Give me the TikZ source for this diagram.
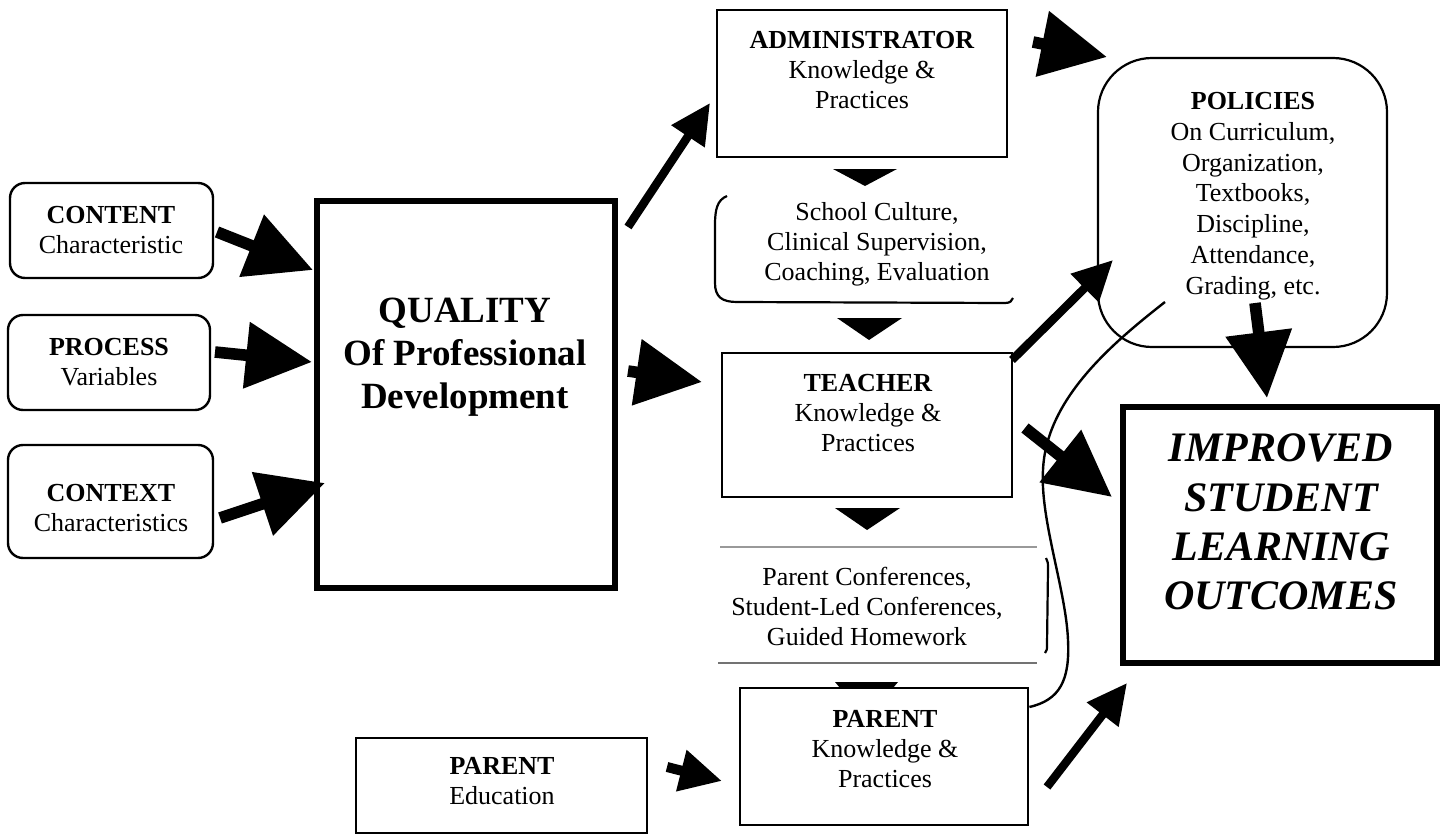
\documentclass[tikz,border=0pt]{standalone}
\usepackage{fontspec}
\setmainfont{Liberation Serif}
\usetikzlibrary{arrows.meta,fit}
\begin{document}
\begin{tikzpicture}[x=0.5pt,y=-0.5pt,
  rbox/.style={draw, line width=1.2pt, rounded corners=7.5pt, inner sep=0pt},
  sbox/.style={draw, line width=1.4pt, inner sep=0pt},
  tbox/.style={draw, line width=2.6pt, inner sep=0pt},
  txt/.style={align=center, inner sep=0pt, font=\fontsize{13}{15}\selectfont},
  bigarrow/.style={line width=5.8pt, -{Triangle[length=33pt,width=32pt]}},
  smallarrow/.style={line width=4.2pt, -{Triangle[length=20pt,width=19pt]}},
  tri/.style={fill=black, draw=none},
  thin/.style={line width=1.1pt}
]
\useasboundingbox (0,0) rectangle (1442,835);

% boxes
\node[rbox, fit={(10,183)(213,278)}] (content) {};
\node[rbox, fit={(8,315)(210,410)}] (process) {};
\node[rbox, fit={(8,445)(213,558)}] (context) {};
\node[tbox, fit={(317,201)(615,588)}] (quality) {};
\node[sbox, fit={(717,10)(1007,157)}] (admin) {};
\node[sbox, fit={(722,353)(1012,497)}] (teacher) {};
\node[sbox, fit={(740,688)(1028,825)}] (parentk) {};
\node[sbox, fit={(356,738)(647,833)}] (parented) {};
\node[draw, line width=1.1pt, rounded corners=27pt, inner sep=0pt, fit={(1098,58)(1387,347)}] (policies) {};
\node[tbox, fit={(1123,407)(1437,663)}] (improved) {};

% texts
\node[txt] (contenttxt) at (111,230) {\textbf{CONTENT}\\Characteristic};
\node[txt] (processtxt) at (109,362) {\textbf{PROCESS}\\Variables};
\node[txt] (contexttxt) at (111,508) {\textbf{CONTEXT}\\Characteristics};
\node[align=center, inner sep=0pt, font=\fontsize{18.5}{21.5}\selectfont\bfseries] (qualitytxt) at (465,357) {QUALITY\\Of Professional\\Development};
\node[txt] (admintxt) at (862,70) {\textbf{ADMINISTRATOR}\\Knowledge \&\\Practices};
\node[txt] (culturetxt) at (877,244) {School Culture,\\Clinical Supervision,\\Coaching, Evaluation};
\node[txt] (teachertxt) at (868,413) {\textbf{TEACHER}\\Knowledge \&\\Practices};
\node[txt] (conftxt) at (867,606) {Parent Conferences,\\Student-Led Conferences,\\Guided Homework};
\node[txt] (edtxt) at (502,781) {\textbf{PARENT}\\Education};
\node[txt] (parentktxt) at (885,749) {\textbf{PARENT}\\Knowledge \&\\Practices};
\node[align=center, inner sep=0pt, font=\fontsize{13}{15.4}\selectfont] (policiestxt) at (1253,196) {\textbf{POLICIES}\\On Curriculum,\\Organization,\\Textbooks,\\Discipline,\\Attendance,\\Grading, etc.};
\node[align=center, inner sep=0pt, font=\fontsize{21}{24.6}\selectfont\bfseries\itshape] (improvedtxt) at (1281,522) {IMPROVED\\STUDENT\\LEARNING\\OUTCOMES};

% school culture bracket shape
\draw[thin] (727,196) .. controls (717,200) and (715,210) .. (715,225) -- (715,283)
  .. controls (715,297) and (722,302) .. (737,302) -- (1005,303)
  .. controls (1010,303) and (1012,301) .. (1013,298);
% parent conferences lines
\draw[line width=1.1pt, black!40] (720,547) -- (1037,547);
\draw[line width=1.1pt, black!55] (718,663) -- (1037,663);
\draw[thin] (1046,558) .. controls (1048,562) .. (1048,570) -- (1047,645) .. controls (1047,650) .. (1045,653);

% down triangles
\fill[tri] (833,169) -- (897,169) -- (865,186) -- cycle;
\fill[tri] (837,318) -- (902,318) -- (869,340) -- cycle;
\fill[tri] (835,508) -- (900,508) -- (867,530) -- cycle;
\fill[tri] (835,682) -- (898,682) -- (893,688) -- (840,688) -- cycle;

% arrow coordinates
\coordinate (a1s) at (217,232); \coordinate (a1t) at (313,270);
\coordinate (a2s) at (215,352); \coordinate (a2t) at (312,362);
\coordinate (a3s) at (220,518); \coordinate (a3t) at (325,483);
\coordinate (a4s) at (628,227); \coordinate (a4t) at (710,103);
\coordinate (a5s) at (628,371); \coordinate (a5t) at (702,382);
\coordinate (a6s) at (1033,42); \coordinate (a6t) at (1107,57);
\coordinate (a7s) at (1012,360); \coordinate (a7t) at (1113,260);
\coordinate (a8s) at (1025,428); \coordinate (a8t) at (1112,497);
\coordinate (a9s) at (1255,303); \coordinate (a9t) at (1267,398);
\coordinate (a10s) at (1047,787); \coordinate (a10t) at (1127,683);
\coordinate (a11s) at (667,767); \coordinate (a11t) at (722,781);

\draw[bigarrow] (a1s) -- (a1t);
\draw[bigarrow] (a2s) -- (a2t);
\draw[bigarrow] (a3s) -- (a3t);
\draw[smallarrow] (a4s) -- (a4t);
\draw[bigarrow] (a5s) -- (a5t);
\draw[bigarrow] (a6s) -- (a6t);
\draw[smallarrow] (a7s) -- (a7t);
\draw[bigarrow] (a8s) -- (a8t);
\draw[bigarrow] (a9s) -- (a9t);
\draw[smallarrow] (a10s) -- (a10t);
\draw[line width=5pt, -{Triangle[length=21pt,width=20pt]}] (a11s) -- (a11t);

% curve from parent to policies
\draw[line width=1.2pt] (parentk.east |- 0,707) .. controls (1060,700) and (1070,680) .. (1068,640)
  .. controls (1066,590) and (1040,520) .. (1043,470)
  .. controls (1046,400) and (1110,345) .. (1165,302);
\end{tikzpicture}
\end{document}
